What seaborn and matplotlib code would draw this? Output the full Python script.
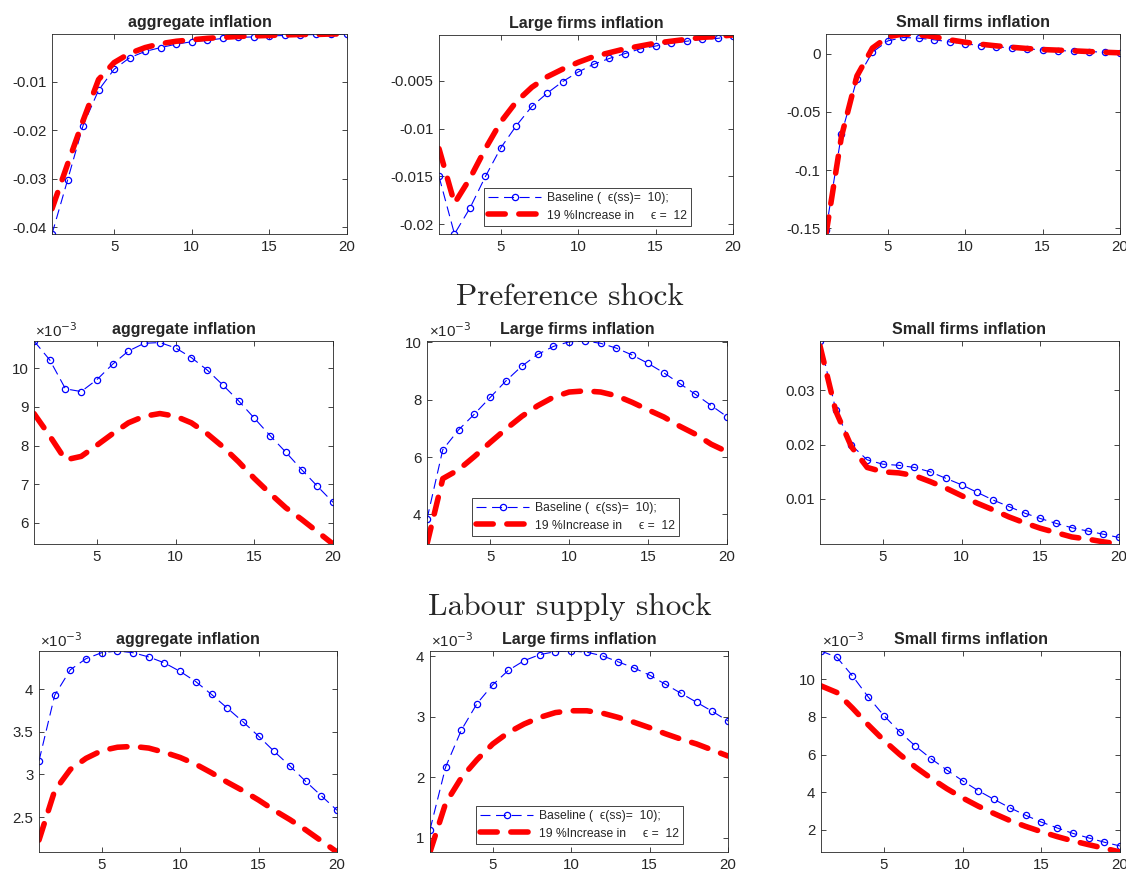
import matplotlib
matplotlib.use("Agg")
import matplotlib.pyplot as plt
import pandas as pd
import seaborn as sns
from matplotlib.ticker import FuncFormatter

horizon = list(range(1, 21))

# first shock (its heading is cut off at the top of the picture)
s1_agg_base = [-0.0414, -0.0303, -0.0190, -0.0117, -0.0074, -0.0050, -0.0037, -0.0029, -0.0022, -0.0017,
               -0.0014, -0.0010, -0.0008, -0.0007, -0.0005, -0.0004, -0.0003, -0.0002, -0.0002, -0.0001]
s1_agg_alt = [-0.0362, -0.0270, -0.0180, -0.0095, -0.0060, -0.0041, -0.0029, -0.0021, -0.0016, -0.0013,
              -0.0010, -0.0008, -0.0006, -0.0005, -0.0004, -0.0003, -0.0002, -0.0002, -0.0001, -0.0001]
s1_lrg_base = [-0.0150, -0.0210, -0.0183, -0.0150, -0.0120, -0.0097, -0.0077, -0.0063, -0.0051, -0.0041,
               -0.0033, -0.0027, -0.0022, -0.0017, -0.0014, -0.0011, -0.0009, -0.0007, -0.0006, -0.0004]
s1_lrg_alt = [-0.0121, -0.0178, -0.0152, -0.0121, -0.0093, -0.0072, -0.0057, -0.0046, -0.0038, -0.0031,
              -0.0025, -0.0021, -0.0017, -0.0014, -0.0011, -0.0009, -0.0007, -0.0005, -0.0004, -0.00025]
s1_sml_base = [-0.1514, -0.0690, -0.0216, 0.0014, 0.0112, 0.0141, 0.0135, 0.0121, 0.0103, 0.0086,
               0.0072, 0.0060, 0.0052, 0.0043, 0.0034, 0.0029, 0.0023, 0.0020, 0.0014, 0.0011]
s1_sml_alt = [-0.1550, -0.0710, -0.0190, 0.0050, 0.0147, 0.0171, 0.0164, 0.0147, 0.0121, 0.0100,
              0.0083, 0.0069, 0.0057, 0.0046, 0.0037, 0.0032, 0.0026, 0.0020, 0.0014, 0.0009]

# preference shock (values in 1e-3 except small firms)
p_agg_base = [10.71, 10.22, 9.47, 9.40, 9.71, 10.11, 10.45, 10.65, 10.67, 10.53,
              10.28, 9.96, 9.57, 9.16, 8.71, 8.26, 7.83, 7.38, 6.95, 6.53]
p_agg_alt = [8.83, 8.25, 7.63, 7.72, 8.01, 8.31, 8.59, 8.76, 8.83, 8.76,
             8.59, 8.31, 7.97, 7.58, 7.15, 6.76, 6.39, 6.09, 5.77, 5.45]
p_lrg_base = [3.84, 6.26, 6.95, 7.50, 8.08, 8.66, 9.17, 9.58, 9.86, 10.02,
              10.05, 9.97, 9.80, 9.56, 9.27, 8.94, 8.57, 8.19, 7.80, 7.41]
p_lrg_alt = [2.97, 5.25, 5.56, 6.02, 6.51, 6.98, 7.42, 7.79, 8.09, 8.27,
             8.31, 8.27, 8.14, 7.91, 7.65, 7.40, 7.08, 6.80, 6.45, 6.19]
p_sml_base = [0.0391, 0.0264, 0.0199, 0.0172, 0.0164, 0.0162, 0.0158, 0.0150, 0.0138, 0.0126,
              0.0112, 0.0098, 0.0086, 0.0074, 0.0064, 0.0055, 0.0047, 0.0041, 0.0035, 0.0029]
p_sml_alt = [0.0382, 0.0262, 0.0196, 0.0158, 0.0150, 0.0148, 0.0143, 0.0132, 0.0120, 0.0106,
             0.0092, 0.0080, 0.0067, 0.0056, 0.0046, 0.0038, 0.0030, 0.0026, 0.0021, 0.0017]

# labour supply shock (values in 1e-3)
l_agg_base = [3.16, 3.93, 4.23, 4.36, 4.43, 4.45, 4.43, 4.38, 4.31, 4.21,
              4.09, 3.94, 3.78, 3.62, 3.45, 3.27, 3.10, 2.92, 2.75, 2.58]
l_agg_alt = [2.23, 2.81, 3.06, 3.19, 3.28, 3.32, 3.33, 3.31, 3.26, 3.20,
             3.12, 3.02, 2.91, 2.81, 2.70, 2.58, 2.47, 2.35, 2.22, 2.09]
l_lrg_base = [1.13, 2.17, 2.78, 3.22, 3.53, 3.77, 3.93, 4.03, 4.08, 4.09,
              4.07, 4.01, 3.91, 3.81, 3.69, 3.54, 3.39, 3.24, 3.09, 2.93]
l_lrg_alt = [0.76, 1.57, 1.99, 2.29, 2.55, 2.74, 2.88, 2.99, 3.07, 3.10,
             3.10, 3.06, 2.99, 2.91, 2.82, 2.72, 2.63, 2.55, 2.45, 2.35]
l_sml_base = [11.50, 11.17, 10.18, 9.06, 8.07, 7.21, 6.45, 5.78, 5.18, 4.61,
              4.08, 3.62, 3.18, 2.78, 2.42, 2.11, 1.82, 1.58, 1.35, 1.15]
l_sml_alt = [9.65, 9.30, 8.47, 7.58, 6.75, 6.01, 5.34, 4.74, 4.19, 3.70,
             3.26, 2.87, 2.50, 2.19, 1.91, 1.65, 1.42, 1.22, 1.03, 0.83]

titles = ["aggregate inflation", "Large firms inflation", "Small firms inflation"]
shock_titles = ["Preference shock", "Labour supply shock"]
label_base = "Baseline (  \u03f5(ss)=  10);"
label_alt = "19 %Increase in     \u03f5 =  12"
x_ticks = [5, 10, 15, 20]

y_ticks = [
    [[-0.04, -0.03, -0.02, -0.01], [-0.02, -0.015, -0.01, -0.005], [-0.15, -0.1, -0.05, 0]],
    [[6, 7, 8, 9, 10], [4, 6, 8, 10], [0.01, 0.02, 0.03]],
    [[2.5, 3, 3.5, 4], [1, 2, 3, 4], [2, 4, 6, 8, 10]],
]
times_e3 = [[False, False, False], [True, True, False], [True, True, True]]

series = [
    [(s1_agg_base, s1_agg_alt), (s1_lrg_base, s1_lrg_alt), (s1_sml_base, s1_sml_alt)],
    [(p_agg_base, p_agg_alt), (p_lrg_base, p_lrg_alt), (p_sml_base, p_sml_alt)],
    [(l_agg_base, l_agg_alt), (l_lrg_base, l_lrg_alt), (l_sml_base, l_sml_alt)],
]

sns.set_theme(style="white", rc={
    "axes.edgecolor": "#262626",
    "axes.linewidth": 0.6,
    "xtick.color": "#262626",
    "ytick.color": "#262626",
    "xtick.bottom": True,
    "ytick.left": True,
    "axes.unicode_minus": False,
})
plt.rcParams["font.family"] = ["Liberation Sans", "DejaVu Sans"]

fig = plt.figure(figsize=(11.26, 8.72), dpi=100)
W, H = 1126, 872

# axes boxes in pixels: (left, top, right, bottom)
boxes = [
    [(52, 34, 347, 234), (439, 35, 733, 234), (826, 34, 1120, 234)],
    [(34, 341, 333, 544), (427, 341, 727, 544), (820, 341, 1119, 544)],
    [(39, 651, 337, 852), (430, 651, 728, 852), (821, 651, 1120, 852)],
]
legend_anchor = [(484, 188), (472, 498), (476, 806)]

for r in range(3):
    for c in range(3):
        l, t, rr, b = boxes[r][c]
        ax = fig.add_axes([l / W, 1 - b / H, (rr - l) / W, (b - t) / H])
        base, alt = series[r][c]
        df = pd.DataFrame({"t": horizon, "base": base, "alt": alt})
        sns.lineplot(data=df, x="t", y="base", ax=ax, color="blue", lw=0.8,
                     linestyle=(0, (9, 5)), marker="o", markersize=4.5,
                     markerfacecolor="none", markeredgecolor="blue",
                     markeredgewidth=0.9, legend=False, label=label_base)
        sns.lineplot(data=df, x="t", y="alt", ax=ax, color="red", lw=4,
                     linestyle=(0, (3.1, 2.45)), dash_capstyle="round",
                     legend=False, label=label_alt)
        lo = min(min(base), min(alt))
        hi = max(max(base), max(alt))
        ax.set_ylim(lo, hi)
        ax.set_xlim(1, 20)
        ax.set_xticks(x_ticks)
        ax.set_yticks(y_ticks[r][c])
        ax.yaxis.set_major_formatter(FuncFormatter(lambda v, p: f"{round(v, 6):g}"))
        ax.set_xlabel("")
        ax.set_ylabel("")
        ax.tick_params(direction="in", top=True, right=True, length=3.5, width=0.6,
                       labelsize=10.8, pad=4)
        ax.set_title(titles[c], fontsize=11.5, fontweight="bold", pad=5)
        if times_e3[r][c]:
            ax.text(0.005, 1.005, "×10$^{-3}$", transform=ax.transAxes, ha="left",
                    va="bottom", fontsize=10.8, color="#262626")
        if c == 1:
            lx, ly = legend_anchor[r]
            leg = ax.legend(loc="upper left", bbox_to_anchor=(lx / W, 1 - ly / H),
                            bbox_transform=fig.transFigure, borderaxespad=0,
                            fontsize=8.7, handlelength=4.4, fancybox=False,
                            framealpha=1, edgecolor="#262626", borderpad=0.35,
                            labelspacing=0.45, handletextpad=0.45)
            leg.get_frame().set_linewidth(0.6)

fig.text(570 / W, 1 - 305 / H, shock_titles[0], fontfamily="cmr10", fontsize=22.5,
         ha="center", va="baseline")
fig.text(570 / W, 1 - 615 / H, shock_titles[1], fontfamily="cmr10", fontsize=22.5,
         ha="center", va="baseline")

fig.savefig("out.png", dpi=100)
